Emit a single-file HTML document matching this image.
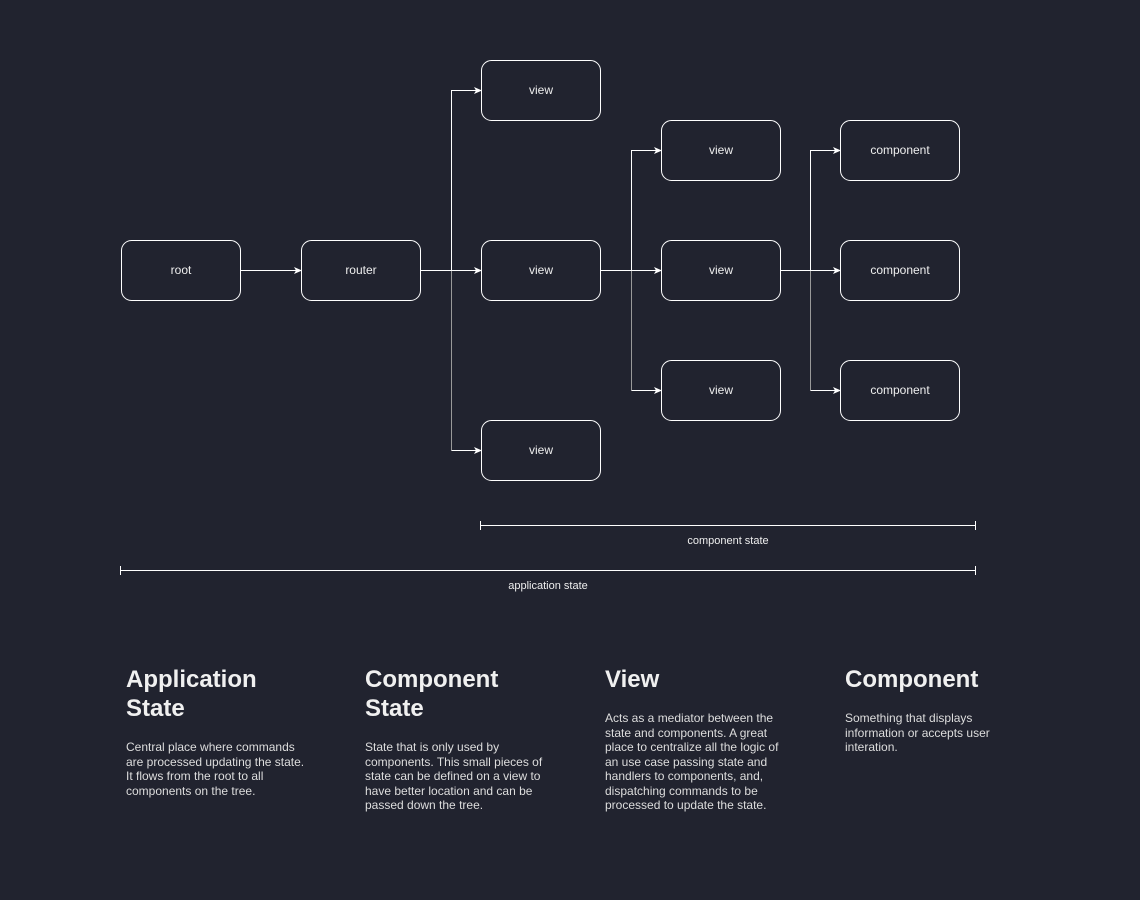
<!DOCTYPE html>
<html><head><meta charset="utf-8"><style>
body{margin:0;background:#21232f;width:1140px;height:900px;overflow:hidden;font-family:"Liberation Sans",sans-serif;color:#eee}
svg{position:absolute;left:0;top:0}
.col{position:absolute;top:665px;width:185px}
.col h2{margin:0;font-size:24px;line-height:29px;font-weight:bold;color:#f0f0f0}
.col p{margin:0;font-size:12px;line-height:14.5px;color:#ddd}
</style></head><body>
<svg width="1140" height="900" font-family="Liberation Sans, sans-serif" font-size="12" fill="none">
<defs><marker id="a" markerWidth="8" markerHeight="8" refX="7" refY="4" orient="auto" markerUnits="userSpaceOnUse"><path d="M0,0.5 L8,4 L0,7.5 L2,4 Z" fill="#fff"/></marker></defs>
<g stroke="#fff" stroke-width="1">
<rect x="121.5" y="240.5" width="119" height="60" rx="10"/>
<rect x="301.5" y="240.5" width="119" height="60" rx="10"/>
<rect x="481.5" y="60.5" width="119" height="60" rx="10"/>
<rect x="481.5" y="240.5" width="119" height="60" rx="10"/>
<rect x="481.5" y="420.5" width="119" height="60" rx="10"/>
<rect x="661.5" y="120.5" width="119" height="60" rx="10"/>
<rect x="661.5" y="240.5" width="119" height="60" rx="10"/>
<rect x="661.5" y="360.5" width="119" height="60" rx="10"/>
<rect x="840.5" y="120.5" width="119" height="60" rx="10"/>
<rect x="840.5" y="240.5" width="119" height="60" rx="10"/>
<rect x="840.5" y="360.5" width="119" height="60" rx="10"/>
</g>
<g stroke="#999">
<path d="M451.5 270 V450.5"/><path d="M631.5 270 V390.5"/><path d="M810.5 270 V390.5"/>
</g>
<g stroke="#fff" marker-end="url(#a)">
<path d="M241 270.5 H301"/>
<path d="M421 270.5 H481"/>
<path d="M451.5 270.5 V90.5 H481"/>
<path d="M451.5 450.5 H481"/>
<path d="M601 270.5 H661"/>
<path d="M631.5 270.5 V150.5 H661"/>
<path d="M631.5 390.5 H661"/>
<path d="M781 270.5 H840"/>
<path d="M810.5 270.5 V150.5 H840"/>
<path d="M810.5 390.5 H840"/>
</g>
<g stroke="#fff">
<path d="M480.5 525.5 H975.5 M480.5 521 V530 M975.5 521 V530"/>
<path d="M120.5 570.5 H975.5 M120.5 566 V575 M975.5 566 V575"/>
</g>
<g fill="#eee" text-anchor="middle">
<text x="181" y="274">root</text><text x="361" y="274">router</text>
<text x="541" y="94">view</text><text x="541" y="274">view</text><text x="541" y="454">view</text>
<text x="721" y="154">view</text><text x="721" y="274">view</text><text x="721" y="394">view</text>
<text x="900" y="154">component</text><text x="900" y="274">component</text><text x="900" y="394">component</text>
<text x="728" y="544" font-size="11">component state</text>
<text x="548" y="589" font-size="11">application state</text>
</g>
</svg>
<div class="col" style="left:126px"><h2>Application State</h2><p style="margin-top:17px">Central place where commands are processed updating the state. It flows from the root to all components on the tree.</p></div>
<div class="col" style="left:365px"><h2>Component State</h2><p style="margin-top:17px">State that is only used by components. This small pieces of state can be defined on a view to have better location and can be passed down the tree.</p></div>
<div class="col" style="left:605px"><h2>View</h2><p style="margin-top:17px">Acts as a mediator between the state and components. A great place to centralize all the logic of an use case passing state and handlers to components, and, dispatching commands to be processed to update the state.</p></div>
<div class="col" style="left:845px;width:160px"><h2>Component</h2><p style="margin-top:17px">Something that displays information or accepts user interation.</p></div>
</body></html>
